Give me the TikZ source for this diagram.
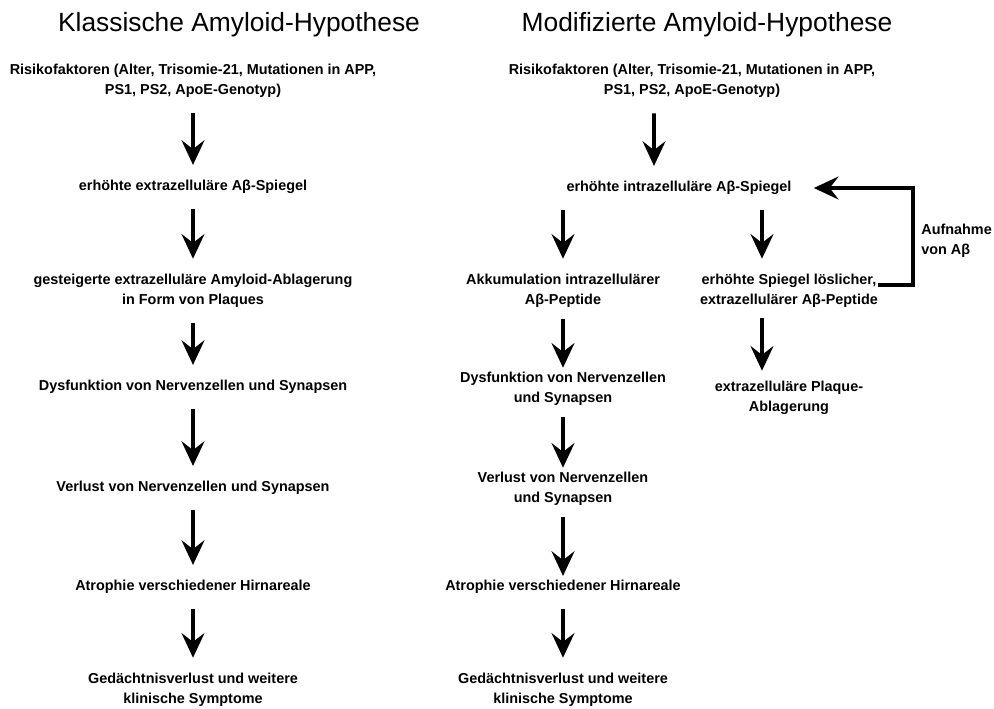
\documentclass[tikz,border=0pt]{standalone}
\usepackage{fontspec}
\setmainfont{Liberation Sans}
\usetikzlibrary{arrows.meta,positioning}

\begin{document}
\begin{tikzpicture}[
  on grid,
  ttl/.style={font=\fontsize{15}{18}\selectfont, inner sep=0pt},
  txt/.style={font=\fontsize{8.2}{11.6}\selectfont\bfseries, align=center, inner sep=0pt},
  arr/.style={-{Stealth[length=14pt,width=13pt,inset=5pt]}, line width=2.2pt,
              shorten <=0.3cm, shorten >=0.3cm},
  arrs/.style={arr, shorten <=0.22cm, shorten >=0.08cm}
]
\useasboundingbox (0,0) rectangle (19.88,-14.16);

% titles
\node[ttl] (lT) at (4.78,-0.5)  {Klassische Amyloid-Hypothese};
\node[ttl] (rT) at (14.14,-0.5) {Modifizierte Amyloid-Hypothese};

% classic hypothesis
\node[txt] (lR) at (3.86,-1.62) {Risikofaktoren (Alter, Trisomie-21, Mutationen in APP,\\PS1, PS2, ApoE-Genotyp)};
\node[txt, below=2.12cm of lR] (lE) {erhöhte extrazelluläre Aβ-Spiegel};
\node[txt, below=2.08cm of lE] (lG) {gesteigerte extrazelluläre Amyloid-Ablagerung\\in Form von Plaques};
\node[txt, below=1.92cm of lG] (lD) {Dysfunktion von Nervenzellen und Synapsen};
\node[txt, below=2.02cm of lD] (lV) {Verlust von Nervenzellen und Synapsen};
\node[txt, below=1.98cm of lV] (lA) {Atrophie verschiedener Hirnareale};
\node[txt, below=2.06cm of lA] (lM) {Gedächtnisverlust und weitere\\klinische Symptome};

\draw[arr] (lR) -- (lE);
\draw[arr] (lE) -- (lG);
\draw[arr] (lG) -- (lD);
\draw[arr] (lD) -- (lV);
\draw[arr] (lV) -- (lA);
\draw[arr] (lA) -- (lM);

% modified hypothesis
\node[txt] (rR) at (13.84,-1.62) {Risikofaktoren (Alter, Trisomie-21, Mutationen in APP,\\PS1, PS2, ApoE-Genotyp)};
\node[txt, below=2.14cm of rR, xshift=-0.26cm] (rE) {erhöhte intrazelluläre Aβ-Spiegel};
\node[txt, below=2.06cm of rE, xshift=-2.32cm] (rK) {Akkumulation intrazellulärer\\Aβ-Peptide};
\node[txt, below=2.06cm of rE, xshift=2.2cm]   (rS) {erhöhte Spiegel löslicher,\\extrazellulärer Aβ-Peptide};
\node[txt, below=1.96cm of rK] (rD) {Dysfunktion von Nervenzellen\\und Synapsen};
\node[txt, below=2.0cm of rD]  (rV) {Verlust von Nervenzellen\\und Synapsen};
\node[txt, below=1.96cm of rV] (rA) {Atrophie verschiedener Hirnareale};
\node[txt, below=2.06cm of rA] (rM) {Gedächtnisverlust und weitere\\klinische Symptome};
\node[txt, below=2.14cm of rS] (rP) {extrazelluläre Plaque-\\Ablagerung};
\node[txt, align=left, anchor=west] (rU) at (18.42,-4.82) {Aufnahme\\von Aβ};

\draw[arr] ([xshift=-0.76cm]rR.south) -- ([xshift=-0.5cm]rE.north);
\draw[arr] (rK.north |- rE.south) -- (rK);
\draw[arr] ([xshift=-0.54cm]rS.north |- rE.south) -- ([xshift=-0.54cm]rS.north);
\draw[arr, shorten <=0.2cm, shorten >=0.2cm] ([xshift=-0.54cm]rS.south) -- ([xshift=-0.54cm]rP.north);
\draw[arrs] (rK) -- (rD);
\draw[arrs] (rD) -- (rV);
\draw[arrs] (rV) -- (rA);
\draw[arr] (rA) -- (rM);
% uptake loop
\draw[arr, shorten <=0pt, shorten >=0.44cm] ([yshift=0.12cm]rS.east) -| ([xshift=-0.16cm]rU.west) |- (rE.east);
\end{tikzpicture}
\end{document}
